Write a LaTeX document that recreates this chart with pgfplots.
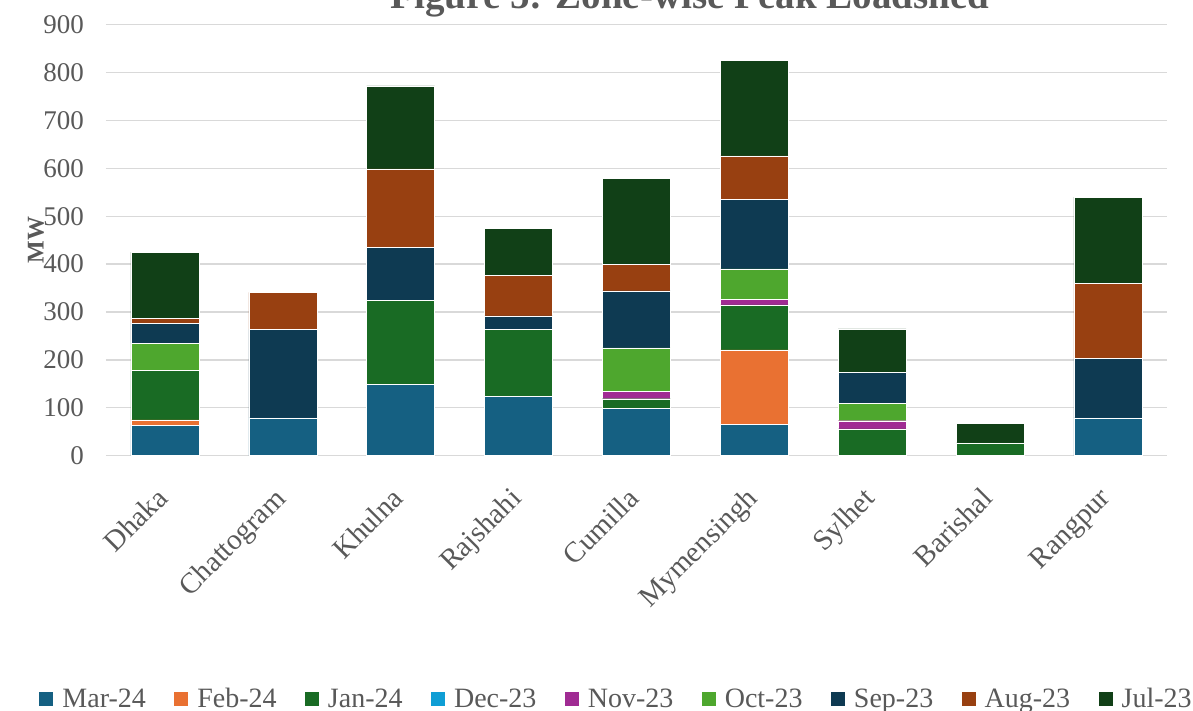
\documentclass[border=0pt]{standalone}
\usepackage{pgfplots}
\pgfplotsset{compat=1.18}
\usepackage{fontspec}
\setmainfont{Liberation Serif}

\definecolor{cMar}{HTML}{156082}
\definecolor{cFeb}{HTML}{E97132}
\definecolor{cJan}{HTML}{196B24}
\definecolor{cDec}{HTML}{0F9ED5}
\definecolor{cNov}{HTML}{A02B93}
\definecolor{cOct}{HTML}{4EA72E}
\definecolor{cSep}{HTML}{0E3A52}
\definecolor{cAug}{HTML}{984011}
\definecolor{cJul}{HTML}{114017}
\definecolor{txtgray}{HTML}{595959}
\definecolor{gridgray}{HTML}{D9D9D9}

\begin{document}
\begin{tikzpicture}
\begin{axis}[
  at={(0pt,0pt)}, anchor=south west,
  scale only axis, width=1061pt, height=431pt,
  ybar stacked, bar width=68pt,
  xmin=-0.5, xmax=8.5, ymin=0, ymax=900,
  xtick={0,...,8},
  xticklabels={Dhaka,Chattogram,Khulna,Rajshahi,Cumilla,Mymensingh,Sylhet,Barishal,Rangpur},
  ytick={0,100,...,900},
  ymajorgrids, grid style={draw=gridgray, line width=1.3pt},
  axis line style={draw=none},
  major tick length=0pt,
  /pgf/number format/assume math mode=true,
  tick label style={text=txtgray},
  yticklabel style={font=\fontsize{27}{32}\selectfont, inner sep=0pt, xshift=-22pt},
  xticklabel style={font=\fontsize{29}{34}\selectfont, inner sep=0pt, xshift=-10pt, yshift=-30pt, rotate=45, anchor=north east},
  ylabel={MW},
  ylabel style={at={(-0.066,0.5)}, anchor=center, font=\bfseries\fontsize{24}{28}\selectfont, text=txtgray},
  title={Figure 5: Zone-wise Peak Loadshed},
  title style={at={(0.5504,1.0248)}, anchor=base, font=\bfseries\fontsize{39}{45}\selectfont, text=txtgray},
  legend columns=9,
  legend style={at={(0.4803,-0.5636)}, anchor=center, draw=none, fill=none,
    font=\fontsize{28}{32}\selectfont, text=txtgray,
    /tikz/every odd column/.append style={column sep=9pt},
    /tikz/every even column/.append style={column sep=28.4pt},
    nodes={inner sep=0pt}},
  legend image code/.code={\fill[#1,draw=none] (0pt,-7pt) rectangle (14pt,7pt);},
  every axis plot/.append style={draw=white, line width=0.4pt},
]
\addplot[fill=cMar] coordinates {(0,64) (1,79) (2,149) (3,124) (4,99) (5,65) (6,0) (7,0) (8,79)};
\addplot[fill=cFeb] coordinates {(0,11) (1,0) (2,0) (3,0) (4,0) (5,156) (6,0) (7,0) (8,0)};
\addplot[fill=cJan] coordinates {(0,103) (1,0) (2,175) (3,140) (4,20) (5,94) (6,56) (7,27) (8,0)};
\addplot[fill=cDec] coordinates {(0,0) (1,0) (2,0) (3,0) (4,0) (5,0) (6,0) (7,0) (8,0)};
\addplot[fill=cNov] coordinates {(0,0) (1,0) (2,0) (3,0) (4,15) (5,11) (6,17) (7,0) (8,0)};
\addplot[fill=cOct] coordinates {(0,56) (1,0) (2,0) (3,0) (4,91) (5,64) (6,36) (7,0) (8,0)};
\addplot[fill=cSep] coordinates {(0,43) (1,185) (2,111) (3,28) (4,119) (5,145) (6,65) (7,0) (8,124)};
\addplot[fill=cAug] coordinates {(0,10) (1,77) (2,164) (3,84) (4,55) (5,91) (6,0) (7,0) (8,157)};
\addplot[fill=cJul] coordinates {(0,138) (1,0) (2,173) (3,99) (4,180) (5,199) (6,91) (7,40) (8,180)};
\legend{Mar-24,Feb-24,Jan-24,Dec-23,Nov-23,Oct-23,Sep-23,Aug-23,Jul-23}
\end{axis}
\pgfresetboundingbox
\useasboundingbox (-106pt,-255.3pt) rectangle (1087pt,455.7pt);
\end{tikzpicture}
\end{document}
